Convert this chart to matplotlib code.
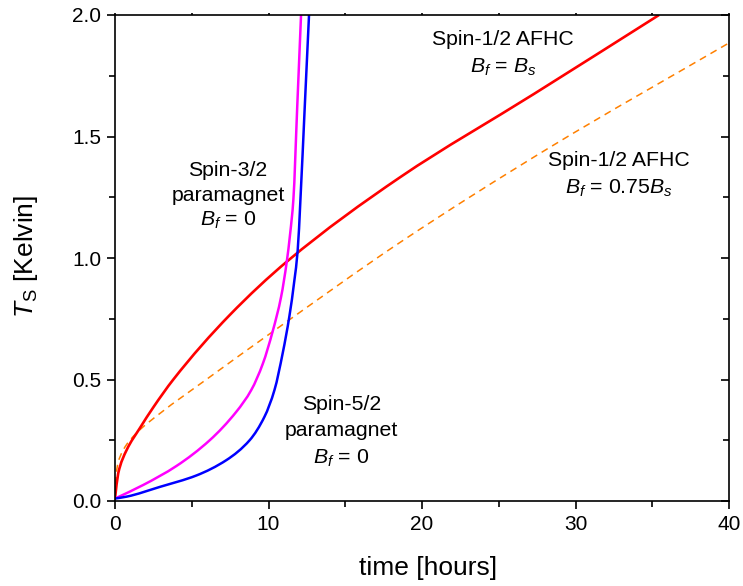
import matplotlib
matplotlib.use("Agg")
import numpy as np
import matplotlib.pyplot as plt
from matplotlib.ticker import MultipleLocator, FormatStrFormatter
from matplotlib.path import Path
from matplotlib.patches import PathPatch
import matplotlib.lines as mlines

plt.rcParams['font.family'] = ['Liberation Sans', 'DejaVu Sans']
plt.rcParams['mathtext.fontset'] = 'custom'
plt.rcParams['mathtext.rm'] = 'Liberation Sans'
plt.rcParams['mathtext.it'] = 'Liberation Sans:italic'
plt.rcParams['mathtext.bf'] = 'Liberation Sans:bold'

# ---- data ----
red_x = [0, 0.21, 0.76, 1.62, 2.49, 3.8, 7.47, 11.25, 18.59, 27.29, 35.44]
red_y = [0.01, 0.114, 0.21, 0.30, 0.385, 0.50, 0.765, 0.988, 1.333, 1.675, 2.0]

orange_x = [0, 0.11, 0.54, 1.41, 2.92, 5.95, 10.28, 18.59, 28.37, 40.0]
orange_y = [0.02, 0.128, 0.21, 0.28, 0.36, 0.50, 0.697, 1.065, 1.457, 1.885]

magenta_x = [0, 1.84, 4.0, 6.17, 7.9, 8.88, 9.63, 10.28, 10.82, 11.19, 11.41,
             11.62, 11.87, 12.12]
magenta_y = [0.01, 0.066, 0.144, 0.25, 0.367, 0.457, 0.565, 0.70, 0.84, 0.985,
             1.10, 1.24, 1.62, 2.0]

blue_x = [0, 0.76, 2.92, 5.3, 7.25, 8.77, 9.74, 10.39, 10.93, 11.36, 11.69,
          11.9, 12.08, 12.36, 12.64]
blue_y = [0.01, 0.018, 0.058, 0.105, 0.168, 0.25, 0.347, 0.457, 0.61, 0.76,
          0.91, 1.03, 1.24, 1.62, 2.0]

x_limits = (0, 40)
y_limits = (0, 2.0)


def smooth_path(xs, ys):
    """Monotone (Fritsch-Butland) cubic through the points, as a Bezier path."""
    x = np.asarray(xs, float)
    y = np.asarray(ys, float)
    h = np.diff(x)
    d = np.diff(y) / h
    n = len(x)
    m = np.zeros(n)
    m[0], m[-1] = d[0], d[-1]
    for i in range(1, n - 1):
        if d[i - 1] * d[i] > 0:
            h0, h1 = h[i - 1], h[i]
            m[i] = 3 * (h0 + h1) / ((2 * h1 + h0) / d[i - 1] + (h1 + 2 * h0) / d[i])
    verts = [(x[0], y[0])]
    codes = [Path.MOVETO]
    for i in range(n - 1):
        verts += [(x[i] + h[i] / 3, y[i] + m[i] * h[i] / 3),
                  (x[i + 1] - h[i] / 3, y[i + 1] - m[i + 1] * h[i] / 3),
                  (x[i + 1], y[i + 1])]
        codes += [Path.CURVE4] * 3
    return Path(verts, codes)


fig = plt.figure(figsize=(7.43, 5.86), dpi=100)
ax = fig.add_axes([115/743, 1-501/586, (729-115)/743, (501-15)/586])

series = [
    (orange_x, orange_y, '#ff8000', 1.1, (0, (4.6, 3.4))),
    (red_x, red_y, '#ff0000', 1.9, '-'),
    (magenta_x, magenta_y, '#ff00ff', 1.8, '-'),
    (blue_x, blue_y, '#0000ff', 1.8, '-'),
]
for xs, ys, c, lw, ls in series:
    patch = PathPatch(smooth_path(xs, ys), fill=False, edgecolor=c, lw=lw,
                      linestyle=ls, capstyle='butt', joinstyle='round',
                      transform=ax.transData)
    ax.add_patch(patch)

ax.set_xlim(*x_limits)
ax.set_ylim(*y_limits)

ax.xaxis.set_major_locator(MultipleLocator(10))
ax.xaxis.set_minor_locator(MultipleLocator(5))
ax.yaxis.set_major_locator(MultipleLocator(0.5))
ax.yaxis.set_minor_locator(MultipleLocator(0.25))
ax.yaxis.set_major_formatter(FormatStrFormatter('%.1f'))

for s in ax.spines.values():
    s.set_linewidth(1.2)

ax.tick_params(axis='both', which='major', labelsize=15, width=1.2, length=6,
               direction='out', pad=4)
ax.tick_params(axis='both', which='minor', width=1.2, length=4, direction='out')
ax.tick_params(axis='y', which='both', right=True, labelright=False)
ax.tick_params(axis='x', which='both', top=True, labeltop=False)

for t in ax.yaxis.get_major_ticks() + ax.yaxis.get_minor_ticks():
    t.tick2line.set_marker(mlines.TICKLEFT)
for t in ax.xaxis.get_major_ticks() + ax.xaxis.get_minor_ticks():
    t.tick2line.set_markersize(1.5)

fs = 15.3
ax.text(25.3, 1.90, 'Spin-1/2 AFHC', ha='center', va='center', fontsize=fs)
ax.text(25.3, 1.786, r'$B_f$ = $B_s$', ha='center', va='center', fontsize=fs)
ax.text(32.8, 1.403, 'Spin-1/2 AFHC', ha='center', va='center', fontsize=fs)
ax.text(32.8, 1.288, r'$B_f$ = 0.75$B_s$', ha='center', va='center', fontsize=fs)
ax.text(7.36, 1.362, 'Spin-3/2', ha='center', va='center', fontsize=fs)
ax.text(7.36, 1.259, 'paramagnet', ha='center', va='center', fontsize=fs)
ax.text(7.36, 1.156, r'$B_f$ = 0', ha='center', va='center', fontsize=fs)
ax.text(14.76, 0.399, 'Spin-5/2', ha='center', va='center', fontsize=fs)
ax.text(14.76, 0.292, 'paramagnet', ha='center', va='center', fontsize=fs)
ax.text(14.76, 0.177, r'$B_f$ = 0', ha='center', va='center', fontsize=fs)

fig.text(428/743, 1-568/586, 'time [hours]', ha='center', va='center', fontsize=19)
fig.text(26/743, 1-256/586, r'$T_\mathrm{S}$ [Kelvin]', ha='center', va='center',
         fontsize=19, rotation=90)

fig.savefig('out.png', dpi=100)
